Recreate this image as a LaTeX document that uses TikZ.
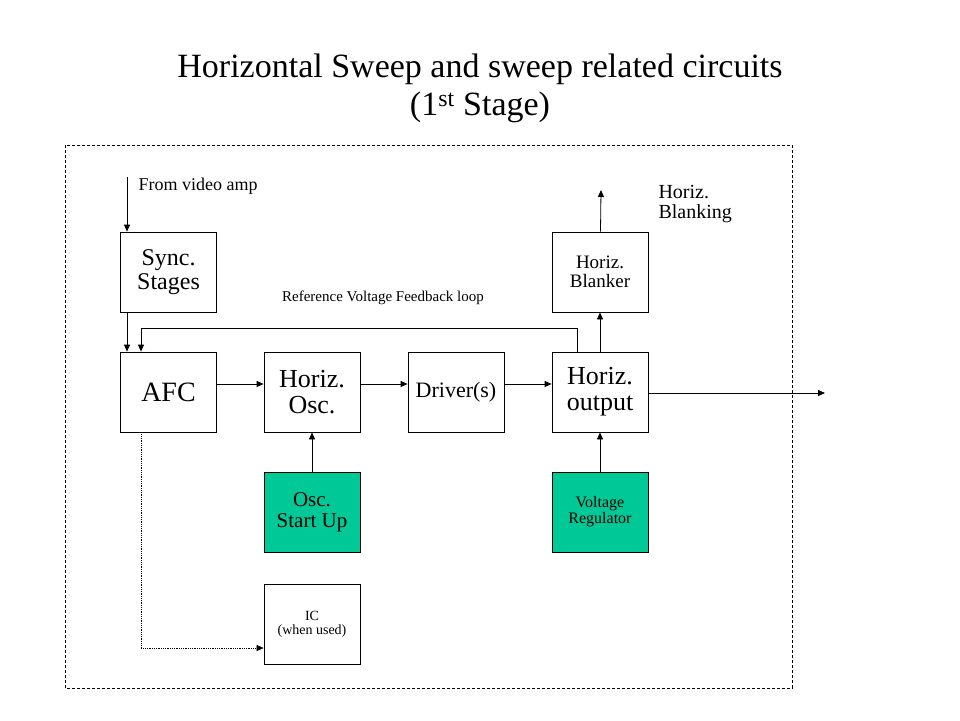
\documentclass[tikz,border=0pt]{standalone}
\usepackage{fontspec}
\setmainfont{Liberation Serif}
\usetikzlibrary{arrows.meta}
\definecolor{grn}{HTML}{00C896}
\begin{document}
\begin{tikzpicture}[x=1pt,y=-1pt,
  box/.style={draw,line width=0.8pt,minimum width=96pt,minimum height=80pt,align=center,inner sep=0pt},
  g/.style={box,fill=grn},
  ar/.style={line width=0.8pt,-{Triangle[length=7pt,width=6pt]}},
  t/.style={font=\fontsize{#1pt}{#1pt}\selectfont}]
\useasboundingbox (0,0) rectangle (960,720);
\node[t=34,align=center] (title) at (480,88) {Horizontal Sweep and sweep related circuits\\[4pt](1\textsuperscript{st} Stage)};
\draw[dash pattern=on 3pt off 2pt,line width=0.6pt] (65,145) rectangle (792,688);
\node[box,t=24,align=center] (sync) at (168.5,272) {Sync.\\Stages};
\node[box,t=28] (afc) at (168.5,392) {AFC};
\node[box,t=26,align=center] (osc) at (312,392) {Horiz.\\Osc.};
\node[box,t=22] (drv) at (456,392) {Driver(s)};
\node[box,t=26,align=center] (out) at (600,392) {Horiz.\\output};
\node[box,t=19,align=center] (blk) at (600,272) {Horiz.\\Blanker};
\node[g,t=21,align=center] (start) at (312,512) {Osc.\\Start Up};
\node[g,t=16,align=center] (reg) at (600,512) {Voltage\\Regulator};
\node[box,t=14,align=center] (ic) at (312,624) {IC\\(when used)};
\node[t=18,anchor=west] (from) at (135,186) {From video amp};
\node[t=20,anchor=west,align=left] (hb) at (655,204) {Horiz.\\Blanking};
\node[t=15] (ref) at (383,298) {Reference Voltage Feedback loop};
\coordinate (fin) at (127,177);
\coordinate (bo) at (601,190);
\coordinate (oe) at (825,393);
\draw[line width=0.8pt] (fin) -- (127,193);
\draw[ar] (127,193) -- (sync.north -| fin);
\draw[ar] (sync.south -| fin) -- (afc.north -| fin);
\draw[ar] (afc.east |- 0,384) -- (osc.west |- 0,384);
\draw[ar] (osc.east |- 0,384) -- (drv.west |- 0,384);
\draw[ar] (drv.east |- 0,384) -- (out.west |- 0,384);
\draw[ar] (start) -- (osc);
\draw[ar] (reg) -- (out);
\draw[ar] (out) -- (blk);
\draw[ar] (blk) -- (bo);
\draw[ar] (out.east |- oe) -- (oe);
\draw[ar] (out.north -| 577,0) -- (577,328) -- (141,328) -- (afc.north -| 141,0);
\draw[ar,densely dotted,line width=0.6pt] (afc.south -| 141,0) -- (141,648) -- (ic.west |- 0,648);
\end{tikzpicture}
\end{document}
